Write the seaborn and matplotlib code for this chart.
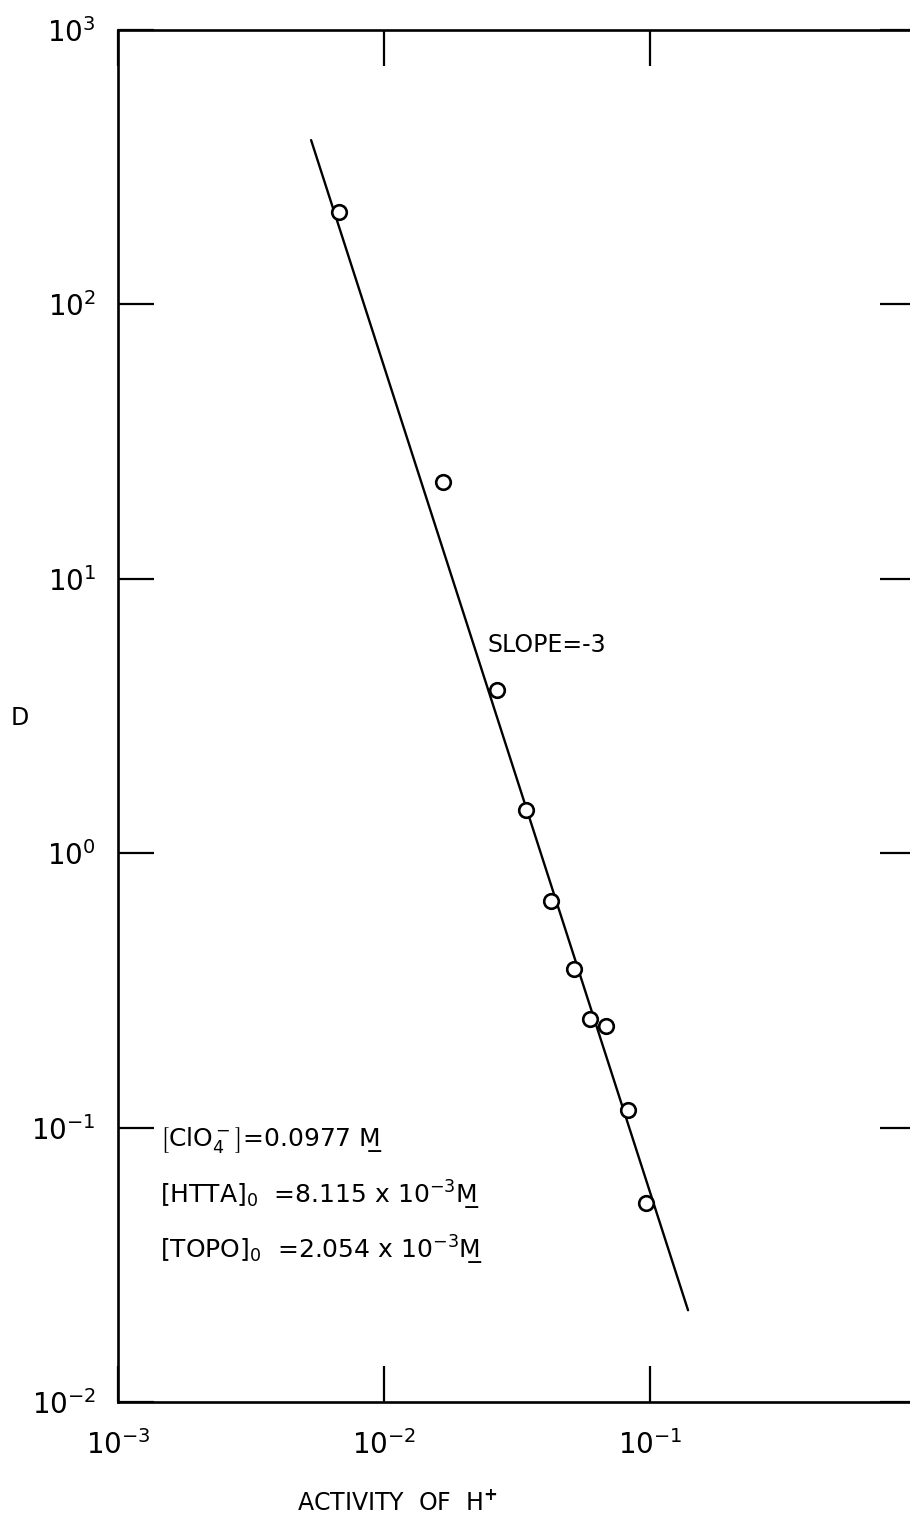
import matplotlib
matplotlib.use("Agg")
import matplotlib.pyplot as plt
import seaborn as sns
import pandas as pd

# Data
activity_h = [0.00678, 0.01667, 0.0266, 0.0342, 0.0425, 0.0518, 0.0594, 0.0684, 0.0826, 0.0966]
d_values = [217, 22.5, 3.94, 1.44, 0.67, 0.379, 0.249, 0.234, 0.116, 0.053]
fit_x = [0.00532, 0.139]
fit_y = [397, 0.0216]

x_ticks = [1e-3, 1e-2, 1e-1]
x_tick_labels = [r"$10^{-3}$", r"$10^{-2}$", r"$10^{-1}$"]
y_ticks = [1e-2, 1e-1, 1e0, 1e1, 1e2, 1e3]
y_tick_labels = [r"$10^{-2}$", r"$10^{-1}$", r"$10^{0}$", r"$10^{1}$", r"$10^{2}$", r"$10^{3}$"]

sns.set_style("ticks")
plt.rcParams['font.family'] = ['DejaVu Sans']
plt.rcParams['mathtext.fontset'] = 'dejavusans'
plt.rcParams['text.color'] = 'black'
plt.rcParams['axes.labelcolor'] = 'black'
plt.rcParams['xtick.color'] = 'black'
plt.rcParams['ytick.color'] = 'black'
plt.rcParams['axes.edgecolor'] = 'black'

W, H = 910, 1523
fig = plt.figure(figsize=(W / 100, H / 100), dpi=100)
left_px, right_px, top_px, bottom_px = 118, 916, 30, 1402
ax = fig.add_axes([left_px / W, 1 - bottom_px / H, (right_px - left_px) / W, (bottom_px - top_px) / H])

pts = pd.DataFrame({"x": activity_h, "y": d_values})
fit = pd.DataFrame({"x": fit_x, "y": fit_y})

sns.lineplot(data=fit, x="x", y="y", ax=ax, color="black", linewidth=1.7, zorder=2)
sns.scatterplot(data=pts, x="x", y="y", ax=ax, marker="o", s=110,
                facecolor="white", edgecolor="black", linewidth=1.9, zorder=3)

ax.set_xscale("log")
ax.set_yscale("log")
ax.set_xlim(1e-3, 1e0)
ax.set_ylim(1e-2, 1e3)

ax.set_xticks(x_ticks)
ax.set_xticklabels(x_tick_labels, fontsize=20)
ax.set_yticks(y_ticks)
ax.set_yticklabels(y_tick_labels, fontsize=20)
ax.minorticks_off()
ax.tick_params(which="major", direction="in", length=26, width=1.6,
               top=True, right=True)
ax.tick_params(axis="x", pad=20)
ax.tick_params(axis="y", pad=16)

for sp in ax.spines.values():
    sp.set_linewidth(1.9)
    sp.set_visible(True)

ax.set_xlabel(r"ACTIVITY  OF  H$^{\mathbf{+}}$", fontsize=17)
ax.xaxis.set_label_coords((397 - left_px) / (right_px - left_px), -(1503 - bottom_px) / (bottom_px - top_px))
ax.xaxis.label.set_va("center")
ax.set_ylabel("D", rotation=0, fontsize=17)
ax.yaxis.set_label_coords((20 - left_px) / (right_px - left_px), 1 - (718 - top_px) / (bottom_px - top_px))
ax.yaxis.label.set_va("center")
ax.yaxis.label.set_ha("center")

ax.text(0.0244, 5.74, "SLOPE=-3", fontsize=17, ha="left", va="center")

ul = "M\u0332"
ax.text(0.00144, 0.0902, r"$\left[\mathrm{ClO_4^-}\right]$=0.0977 " + ul, fontsize=18, ha="left", va="center")
ax.text(0.00144, 0.0568, r"$\left[\mathrm{HTTA}\right]_0$  =8.115 x 10$^{-3}$" + ul, fontsize=18, ha="left", va="center")
ax.text(0.00144, 0.0358, r"$\left[\mathrm{TOPO}\right]_0$  =2.054 x 10$^{-3}$" + ul, fontsize=18, ha="left", va="center")

fig.savefig("out.png", dpi=100)
